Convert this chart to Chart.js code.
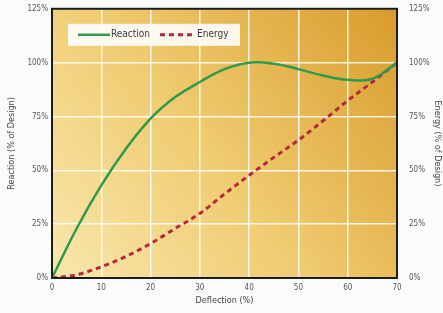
<!DOCTYPE html>
<html lang="en">
<head>
  <meta charset="UTF-8">
  <title>Reaction and Energy vs Deflection</title>
  <script src="https://cdn.jsdelivr.net/npm/chart.js"></script>
  <style>
    html, body { margin: 0; padding: 0; background: #fbfbfa; }
    #wrap { width: 443px; height: 313px; }
  </style>
</head>
<body>
  <div id="wrap"><canvas id="chart"></canvas></div>

  <script>
    // data (every 5% deflection)
    const deflection = [0, 5, 10, 15, 20, 25, 30, 35, 40, 45, 50, 55, 60, 65, 70];
    const reaction   = [0, 23, 43, 60, 74, 84, 91, 97, 100, 99.5, 97, 94, 92, 92.5, 100];
    const energy     = [0, 1.5, 5.2, 10, 16, 23, 30, 39, 47.7, 56, 64, 73, 82.4, 91, 100];
    const yTicks = [0, 25, 50, 75, 100, 125];

    const font = "'Liberation Sans Narrow', 'DejaVu Sans Condensed', 'Liberation Sans', sans-serif";
    const toPts = ys => deflection.map((x, i) => ({ x: x, y: ys[i] }));

    // gradient background, frame and in-plot legend
    const decor = {
      id: 'decor',
      beforeDraw(chart) {
        const { ctx, chartArea: a } = chart;
        const g = ctx.createLinearGradient(a.left, a.bottom, a.right, a.top);
        g.addColorStop(0, '#f9e7ad');
        g.addColorStop(0.45, '#f0cc72');
        g.addColorStop(1, '#d99c2c');
        ctx.save();
        ctx.fillStyle = g;
        ctx.fillRect(a.left, a.top, a.right - a.left, a.bottom - a.top);
        ctx.restore();
      },
      afterDatasetsDraw(chart) {
        const { ctx, chartArea: a } = chart;
        ctx.save();
        ctx.strokeStyle = '#1c1c1c';
        ctx.lineWidth = 2;
        ctx.strokeRect(a.left, a.top, a.right - a.left, a.bottom - a.top);

        // legend box
        const lx = a.left + 16, ly = a.top + 15;
        ctx.fillStyle = 'rgba(255,255,255,0.88)';
        ctx.fillRect(lx, ly, 172, 22);
        const cy = ly + 11;
        ctx.lineWidth = 2.5;
        ctx.strokeStyle = '#2e9a4a';
        ctx.beginPath(); ctx.moveTo(lx + 10, cy); ctx.lineTo(lx + 42, cy); ctx.stroke();
        ctx.strokeStyle = '#b3283a';
        ctx.lineWidth = 3;
        ctx.setLineDash([5, 4]);
        ctx.beginPath(); ctx.moveTo(lx + 92, cy); ctx.lineTo(lx + 127, cy); ctx.stroke();
        ctx.setLineDash([]);
        ctx.fillStyle = '#333a48';
        ctx.font = '10px ' + font;
        ctx.textBaseline = 'middle';
        ctx.fillText('Reaction', lx + 43, cy);
        ctx.fillText('Energy', lx + 129, cy);
        ctx.restore();
      }
    };

    const tickFont = { family: font, size: 8 };
    const titleFont = { family: font, size: 9 };

    new Chart(document.getElementById('chart'), {
      type: 'line',
      data: {
        datasets: [
          {
            label: 'Reaction',
            data: toPts(reaction),
            borderColor: '#2e9a4a',
            borderWidth: 2.5,
            pointRadius: 0,
            tension: 0.4,
            yAxisID: 'y'
          },
          {
            label: 'Energy',
            data: toPts(energy),
            borderColor: '#b3283a',
            borderWidth: 3,
            borderDash: [5, 4],
            pointRadius: 0,
            cubicInterpolationMode: 'monotone',
            yAxisID: 'y1'
          }
        ]
      },
      options: {
        responsive: true,
        maintainAspectRatio: false,
        animation: false,
        layout: { padding: { top: 7, left: 0, right: 0, bottom: 0 } },
        plugins: {
          legend: { display: false },
          tooltip: { enabled: false }
        },
        scales: {
          x: {
            type: 'linear',
            min: 0, max: 70,
            ticks: { stepSize: 10, color: '#555', font: tickFont, padding: 5 },
            grid: { color: 'rgba(255,255,250,0.85)', lineWidth: 1.5, drawTicks: false },
            border: { display: false },
            title: { display: true, text: 'Deflection (%)', color: '#444', font: titleFont, padding: { top: 0, bottom: 7 } },
            afterFit(s) { s.height = 35; }
          },
          y: {
            position: 'left',
            min: 0, max: 125,
            afterBuildTicks(s) { s.ticks = yTicks.map(v => ({ value: v })); },
            ticks: { color: '#555', font: tickFont, padding: 4, callback: v => v + '%' },
            grid: { color: 'rgba(255,255,250,0.85)', lineWidth: 1.5, drawTicks: false },
            border: { display: false },
            title: { display: true, text: 'Reaction (% of Design)', color: '#444', font: titleFont, padding: { top: 6, bottom: 0 } },
            afterFit(s) { s.width = 52; }
          },
          y1: {
            position: 'right',
            min: 0, max: 125,
            afterBuildTicks(s) { s.ticks = yTicks.map(v => ({ value: v })); },
            ticks: { color: '#555', font: tickFont, padding: 4, callback: v => v + '%' },
            grid: { display: false },
            border: { display: false },
            title: { display: true, text: 'Energy (% of Design)', color: '#444', font: titleFont, padding: { top: 0, bottom: 4 } },
            afterFit(s) { s.width = 46; }
          }
        }
      },
      plugins: [decor]
    });
  </script>
</body>
</html>
